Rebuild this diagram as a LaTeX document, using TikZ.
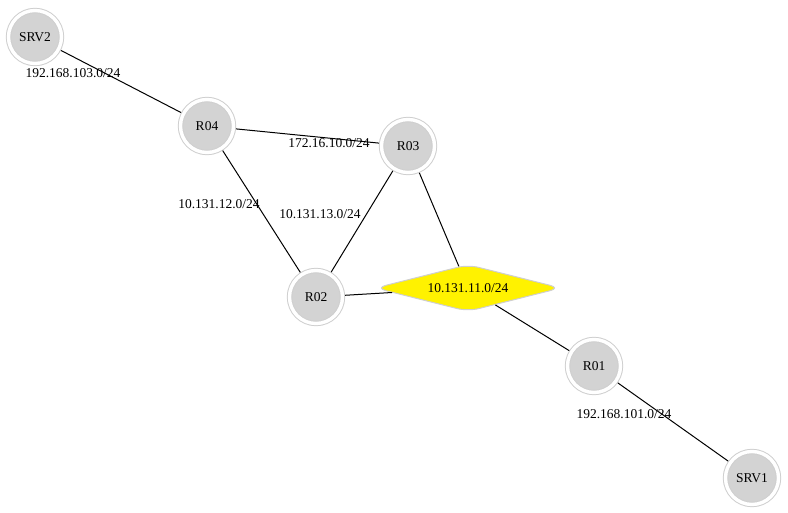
\documentclass[tikz,border=0pt]{standalone}
\usepackage{fontspec}
\setmainfont{Liberation Serif}
\usetikzlibrary{shapes.geometric, positioning}
\definecolor{nodegray}{HTML}{D3D3D3}
\definecolor{ringgray}{HTML}{CFCFCF}

\begin{document}
\begin{tikzpicture}[x=1pt, y=-1pt,
    router/.style={circle, fill=nodegray, draw=ringgray, double=white, double distance=3.4pt,
      line width=1pt, minimum size=53pt, inner sep=0pt, outer sep=2.7pt,
      font=\fontsize{13.5}{16}\selectfont},
    lan/.style={diamond, aspect=4, fill=yellow, draw=ringgray, line width=1pt,
      rounded corners=11pt, minimum width=186pt, minimum height=47pt, inner sep=0pt,
      font=\fontsize{13.5}{16}\selectfont},
    link/.style={draw=black, line width=1pt},
    net/.style={inner sep=0pt, font=\fontsize{13.5}{16}\selectfont}]

            \useasboundingbox (0,0) rectangle (788,513);

            % Vẽ các nút
            \node[router] (srv2) at (35,37) {SRV2};
            \node[router] (r04) at (207,126) {R04};
            \node[router] (r03) at (408,146) {R03};
            \node[router] (r02) at (316,297) {R02};
            \node[lan] (lan11) at (468,288) {10.131.11.0/24};
            \node[router] (r01) at (594,366) {R01};
            \node[router] (srv1) at (752,478) {SRV1};

            % Vẽ các đường nối
            \draw[link] (srv2) -- (r04);
            \draw[link] (r04) -- (r03);
            \draw[link] (r04) -- (r02);
            \draw[link] (r02) -- (r03);
            \draw[link] (r02) -- (lan11);
            \draw[link] (r03) -- (lan11);
            \draw[link] (lan11) -- (r01);
            \draw[link] (r01) -- (srv1);

            % Vẽ nhãn mạng
            \node[net] (n103) at (73,73) {192.168.103.0/24};
            \node[net] (n10) at (329,143) {172.16.10.0/24};
            \node[net] (n12) at (219,204) {10.131.12.0/24};
            \node[net] (n13) at (320,214) {10.131.13.0/24};
            \node[net] (n101) at (624,414) {192.168.101.0/24};

\end{tikzpicture}
\end{document}
